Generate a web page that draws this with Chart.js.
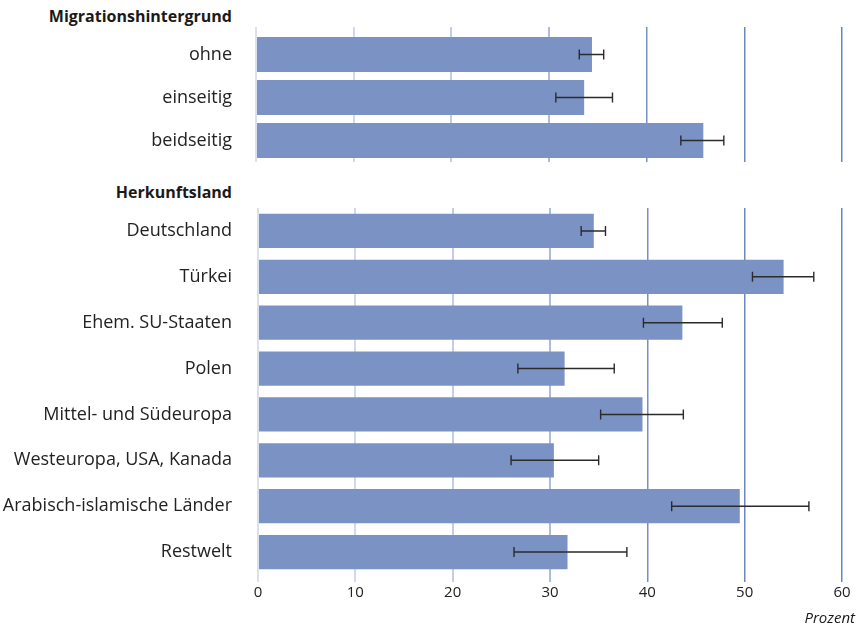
<!DOCTYPE html>
<html>
<head>
<meta charset="utf-8">
<script src="https://cdn.jsdelivr.net/npm/chart.js@4/dist/chart.umd.min.js"></script>
<style>
  body { margin: 0; background: #fff; font-family: "Open Sans", sans-serif; }
  #wrap { position: relative; width: 858px; height: 629px; }
  .head { position: absolute; right: 626px; font-weight: bold; font-size: 16px; color: #1a1a1a; white-space: nowrap; }
  #topBox { position: absolute; left: 0; top: 10px; width: 858px; height: 165px; }
  #botBox { position: absolute; left: 0; top: 185px; width: 858px; height: 444px; }
  #unit { position: absolute; right: 3px; top: 607px; font-style: italic; font-size: 15px; color: #1a1a1a; }
</style>
</head>
<body>
<div id="wrap">
  <div class="head" style="top:5px">Migrationshintergrund</div>
  <div class="head" style="top:181px">Herkunftsland</div>
  <div id="topBox"><canvas id="topChart"></canvas></div>
  <div id="botBox"><canvas id="botChart"></canvas></div>
  <div id="unit">Prozent</div>
</div>
<script>
// Migrationshintergrund
const migLabels = ["ohne", "einseitig", "beidseitig"];
const migValues = [34.4, 33.6, 45.8];
const migLow = [33.1, 30.7, 43.5];
const migHigh = [35.6, 36.5, 47.9];

// Herkunftsland
const landLabels = ["Deutschland", "Türkei", "Ehem. SU-Staaten", "Polen",
  "Mittel- und Südeuropa", "Westeuropa, USA, Kanada", "Arabisch-islamische Länder", "Restwelt"];
const landValues = [34.5, 54.0, 43.6, 31.5, 39.5, 30.4, 49.5, 31.8];
const landLow = [33.2, 50.8, 39.6, 26.7, 35.2, 26.0, 42.5, 26.3];
const landHigh = [35.7, 57.1, 47.7, 36.6, 43.7, 35.0, 56.6, 37.9];

const xTicks = [0, 10, 20, 30, 40, 50, 60];

const barColor = "#7b93c4";
const gridColors = ["#dbe0ef", "#d3d9ec", "#c3cde6", "#aebbdc", "#7890c8", "#6a87c4", "#5a8bc7"];

// draws the confidence intervals
const errorBars = {
  id: "errorBars",
  afterDatasetsDraw(chart, args, opts) {
    const ctx = chart.ctx;
    const x = chart.scales.x;
    const y = chart.scales.y;
    ctx.save();
    ctx.strokeStyle = "#2b2b2b";
    ctx.lineWidth = 1.4;
    opts.low.forEach((lo, i) => {
      const yy = y.getPixelForValue(i);
      const x1 = x.getPixelForValue(lo);
      const x2 = x.getPixelForValue(opts.high[i]);
      ctx.beginPath();
      ctx.moveTo(x1, yy); ctx.lineTo(x2, yy);
      ctx.moveTo(x1, yy - 5); ctx.lineTo(x1, yy + 5);
      ctx.moveTo(x2, yy - 5); ctx.lineTo(x2, yy + 5);
      ctx.stroke();
    });
    ctx.restore();
  }
};

function makeChart(id, labels, values, low, high, axisWidth, isBottom, pad, barPct) {
  const ctx = document.getElementById(id).getContext("2d");
  return new Chart(ctx, {
    type: "bar",
    data: {
      labels: labels,
      datasets: [{
        data: values,
        backgroundColor: barColor,
        borderWidth: 0,
        barPercentage: barPct,
        categoryPercentage: 1,
      }],
    },
    options: {
      indexAxis: "y",
      responsive: true,
      maintainAspectRatio: false,
      animation: false,
      layout: { padding: pad },
      plugins: {
        legend: { display: false },
        tooltip: { enabled: false },
        errorBars: { low: low, high: high },
      },
      scales: {
        x: {
          position: isBottom ? "bottom" : "top",
          min: 0,
          max: 60,
          afterBuildTicks: (scale) => { scale.ticks = xTicks.map(v => ({ value: v })); },
          border: { display: false },
          grid: {
            color: (c) => gridColors[c.index] || "#ccc",
            lineWidth: (c) => c.index >= 4 ? 1.5 : 2,
            drawTicks: true,
            tickLength: isBottom ? 7 : 6,
          },
          ticks: {
            display: isBottom,
            padding: 2,
            color: "#222",
            font: { family: "Open Sans", size: 15 },
          },
        },
        y: {
          afterFit: (scale) => { scale.width = axisWidth; },
          border: { display: false },
          // invisible tick marks keep the labels away from the bars
          grid: {
            drawOnChartArea: false,
            drawTicks: true,
            tickLength: axisWidth - 232,
            tickColor: "rgba(0,0,0,0)",
          },
          ticks: {
            padding: 0,
            color: "#222",
            font: { family: "Open Sans", size: 18 },
          },
        },
      },
    },
    plugins: [errorBars],
  });
}

makeChart("topChart", migLabels, migValues, migLow, migHigh, 256, false,
  { top: 17, bottom: 13, right: 16, left: 0 }, 0.814);
makeChart("botChart", landLabels, landValues, landLow, landHigh, 258, true,
  { top: 23, bottom: 25, right: 16, left: 0 }, 0.746);
</script>
</body>
</html>
